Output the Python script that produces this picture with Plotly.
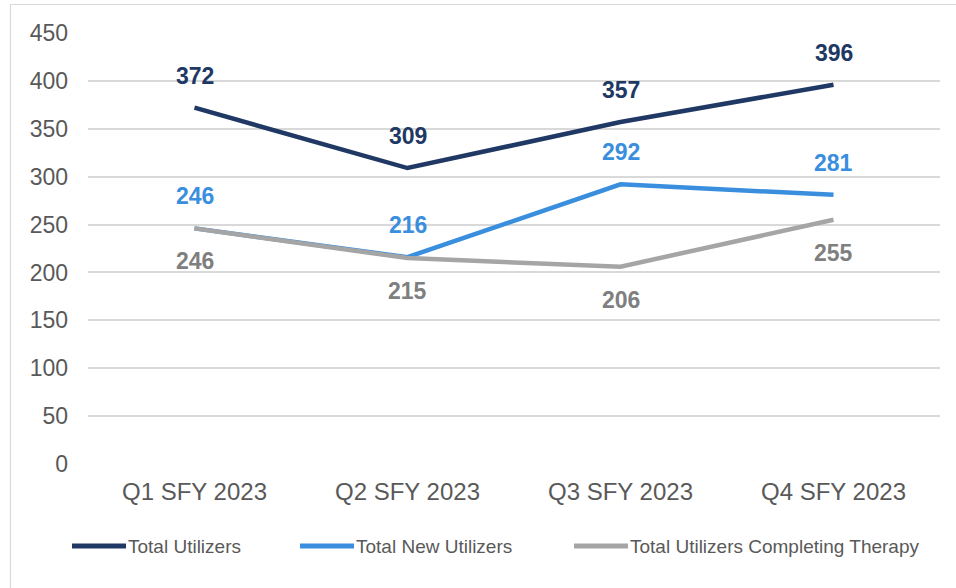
import plotly.graph_objects as go

# Quarterly utilizer counts
quarters = ["Q1 SFY 2023", "Q2 SFY 2023", "Q3 SFY 2023", "Q4 SFY 2023"]
total_utilizers = [372, 309, 357, 396]
total_new_utilizers = [246, 216, 292, 281]
total_completing = [246, 215, 206, 255]

series_names = ["Total Utilizers", "Total New Utilizers", "Total Utilizers Completing Therapy"]
line_colors = ["#203864", "#3A8EDE", "#A5A5A5"]
label_colors = ["#203864", "#3A8EDE", "#7F7F7F"]
label_shifts = [32, 32, -33]
series_values = [total_utilizers, total_new_utilizers, total_completing]

FONT = "Liberation Sans, Arial, sans-serif"
W, H = 956, 588
ML, MR, MT, MB = 88, 16, 33, 124
PW = W - ML - MR
PH = H - MT - MB

fig = go.Figure()
for name, vals, color in zip(series_names, series_values, line_colors):
    fig.add_trace(go.Scatter(
        x=quarters, y=vals, name=name, mode="lines",
        line=dict(color=color, width=4.5),
        showlegend=False, hoverinfo="x+y+name",
    ))

# Value labels above / below each point
annotations = []
for vals, color, shift in zip(series_values, label_colors, label_shifts):
    for q, v in zip(quarters, vals):
        annotations.append(dict(
            x=q, y=v, text=f"<b>{v}</b>", showarrow=False,
            yshift=shift, yanchor="middle", xanchor="center",
            font=dict(family=FONT, size=23, color=color),
        ))

# Legend built from shapes and text along the bottom
def px_x(px):
    return (px - ML) / PW

def px_y(py):
    return (H - MB - py) / PH

legend_y = 546
legend_samples = [(70, 127), (298, 355), (572, 629)]
shapes = []
for (x0, x1), name, color in zip(legend_samples, series_names, line_colors):
    shapes.append(dict(
        type="line", xref="paper", yref="paper",
        x0=px_x(x0 + 2), x1=px_x(x1 - 1), y0=px_y(legend_y), y1=px_y(legend_y),
        line=dict(color=color, width=5),
    ))
    annotations.append(dict(
        xref="paper", yref="paper", x=px_x(x1 - 1), y=px_y(legend_y),
        text=name, showarrow=False, xanchor="left", yanchor="middle",
        font=dict(family=FONT, size=19, color="#595959"),
    ))

# Outer chart frame
shapes.append(dict(
    type="rect", xref="paper", yref="paper", layer="below",
    x0=px_x(10.5), x1=px_x(W + 20), y0=px_y(4.5), y1=px_y(H + 20),
    line=dict(color="#D9D9D9", width=1.2), fillcolor="rgba(0,0,0,0)",
))

fig.update_layout(
    width=W, height=H,
    margin=dict(l=ML, r=MR, t=MT, b=MB, pad=0),
    paper_bgcolor="white", plot_bgcolor="white",
    showlegend=False,
    font=dict(family=FONT, color="#595959"),
    xaxis=dict(
        type="category", range=[-0.5, 3.5], showgrid=False, zeroline=False,
        showline=False, ticks="", tickfont=dict(size=24, color="#595959"),
        ticklabelstandoff=11,
    ),
    yaxis=dict(
        range=[0, 450], dtick=50, showgrid=True, gridcolor="#D9D9D9", gridwidth=1.5,
        zeroline=False, showline=False, ticks="",
        tickfont=dict(size=23, color="#595959"), ticklabelstandoff=19,
    ),
    annotations=annotations,
    shapes=shapes,
)

fig.write_html("out.html")
